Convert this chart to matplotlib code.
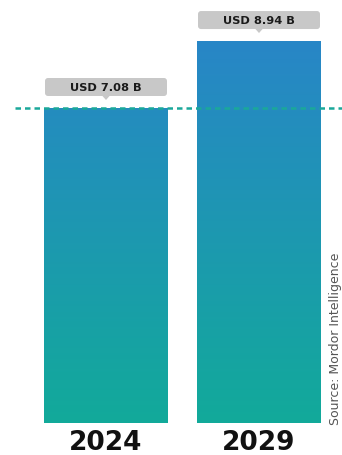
import numpy as np
import matplotlib.pyplot as plt
from matplotlib.colors import LinearSegmentedColormap
from matplotlib.patches import FancyBboxPatch, Polygon
from matplotlib.transforms import IdentityTransform, blended_transform_factory

years = ["2024", "2029"]
values = [7.08, 8.94]
value_labels = ["USD 7.08 B", "USD 8.94 B"]
source = "Source: Mordor Intelligence"

W, H, DPI = 342, 456, 100
BASE = -1.67          # visual baseline used by the original graphic
PX_PER_UNIT = 36.0
BAR_W = 124 / 153

top_col = "#2886c7"
bot_col = "#12aa9a"
cmap = LinearSegmentedColormap.from_list("grad", [bot_col, top_col])

fig = plt.figure(figsize=(W / DPI, H / DPI), dpi=DPI)
ax = fig.add_axes([29.5 / W, 32 / H, 306 / W, 424 / H])
ax.set_xlim(-0.5, 1.5)
ax.set_ylim(BASE, BASE + 424 / PX_PER_UNIT)
ax.axis("off")

x = np.arange(len(years))
bars = ax.bar(x, np.array(values) - BASE, bottom=BASE, width=BAR_W,
              color="none", edgecolor="none")

# vertical gradient fill, clipped to each bar
grad = np.linspace(0, 1, 256).reshape(-1, 1)
ylo, yhi = ax.get_ylim()
for b in bars:
    im = ax.imshow(grad, cmap=cmap, origin="lower", aspect="auto",
                   extent=(b.get_x(), b.get_x() + b.get_width(), BASE, max(values)),
                   zorder=1)
    im.set_clip_path(b)
ax.set_xlim(-0.5, 1.5)
ax.set_ylim(ylo, yhi)

# dashed reference line at the first value
ax.plot([-0.5 - 14.5 / 153, 1.5 + 7 / 153], [values[0], values[0]],
        ls=(0, (2.2, 1.6)), lw=1.8, color="#1aa89a", clip_on=False, zorder=3)

# value callouts (pixel space)
fig.canvas.draw()
for xi, v, lab in zip(x, values, value_labels):
    x0, y0 = ax.transData.transform((xi - BAR_W / 2, v))
    x1, _ = ax.transData.transform((xi + BAR_W / 2, v))
    cx = (x0 + x1) / 2
    by = y0 + 12
    box = FancyBboxPatch((x0 + 1, by), x1 - x0 - 2, 18,
                         boxstyle="round,pad=0,rounding_size=3",
                         fc="#c8c8c8", ec="none", transform=IdentityTransform(),
                         figure=fig)
    fig.patches.append(box)
    tri = Polygon([[cx - 4, by + 0.5], [cx + 4, by + 0.5], [cx, by - 4]],
                  closed=True, fc="#c8c8c8", ec="none",
                  transform=IdentityTransform(), figure=fig)
    fig.patches.append(tri)
    fig.text(cx / W, (by + 9.5) / H, lab, ha="center", va="center",
             fontsize=8.2, fontweight="bold", color="#1a1a1a")

# year labels under the bars
trans = blended_transform_factory(ax.transData, fig.transFigure)
for xi, yr in zip(x, years):
    ax.text(xi, 13 / H, yr, transform=trans, ha="center", va="center",
            fontsize=19, fontweight="bold", color="#111111", clip_on=False)

fig.text(335.5 / W, 31 / H, source, rotation=90, ha="center", va="bottom",
         fontsize=9, color="#555555")

fig.savefig("out.png", dpi=DPI)
